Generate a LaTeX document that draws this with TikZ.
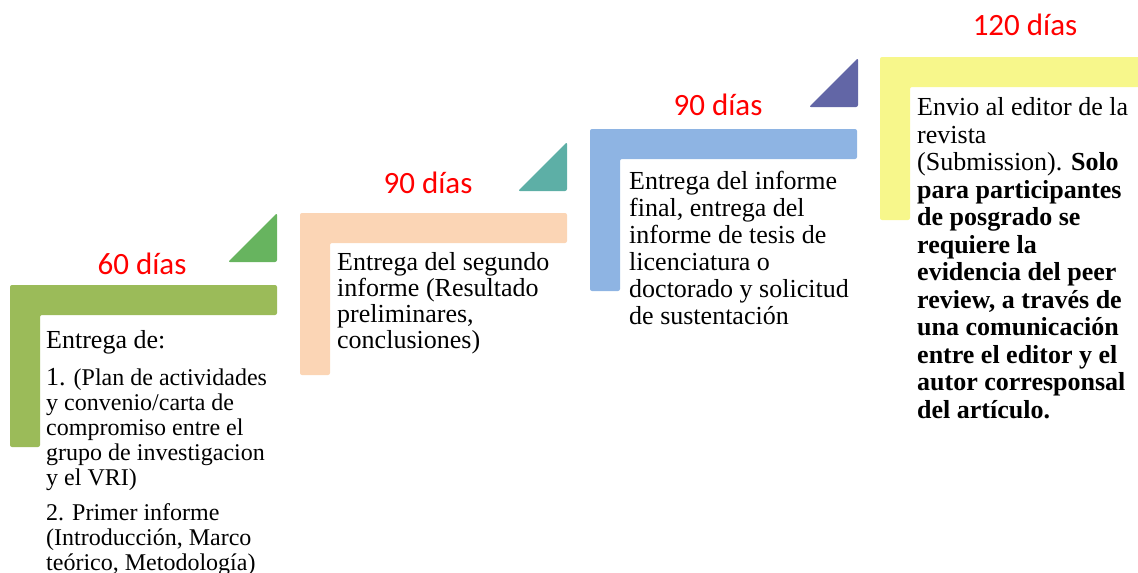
\documentclass[tikz,border=0pt]{standalone}
\usepackage{fontspec}
\setmainfont{Liberation Serif}
\newfontfamily\titlefont{Carlito}
\definecolor{barA}{HTML}{9BBB59}
\definecolor{barB}{HTML}{FBD5B5}
\definecolor{barC}{HTML}{8EB4E3}
\definecolor{barD}{HTML}{F7F78B}
\definecolor{triA}{HTML}{67B45F}
\definecolor{triB}{HTML}{5DAFA6}
\definecolor{triC}{HTML}{6266A6}
\tikzset{
  days/.style={text=red,font=\titlefont\fontsize{31}{31}\selectfont,anchor=base,inner sep=0pt},
  body/.style={font=\fontsize{26}{27}\selectfont,align=left,anchor=base west,inner sep=0pt}
}
\begin{document}
\begin{tikzpicture}[x=1pt,y=-1pt]
\useasboundingbox (0,0) rectangle (1138,573);
\clip (0,0) rectangle (1138,573);
\foreach \X/\Y/\H/\C in {10/285/447/barA,300/213/375/barB,590/129/291/barC,880/57/220/barD}
\fill[\C,rounded corners=2pt] (\X,\Y) -- ++(267,0) -- ++(0,30) -- (\X+30,\Y+30) -- (\X+30,\H) -- (\X,\H) -- cycle;
\foreach \X/\Y/\C in {228/262/triA,518/191/triB,809/107/triC}
\fill[\C,rounded corners=2pt] (\X,\Y) -- ++(49,0) -- ++(0,-49) -- cycle;
\node[days] (t1) at (142,274) {60 días};
\node[days] (t2) at (428,193) {90 días};
\node[days] (t3) at (718,115) {90 días};
\node[days] (t4) at (1025,35) {120 días};
\node[body,font=\fontsize{24}{25}\selectfont] (b1) at (46,570) {{\fontsize{26}{27}\selectfont Entrega de:}\\[12pt]
{\fontsize{26}{27}\selectfont 1.} (Plan de actividades\\
y convenio/carta de\\
compromiso entre el\\
grupo de investigacion\\
y el VRI)\\[10pt]
2. Primer informe\\
(Introducción, Marco\\
teórico, Metodología)};
\node[body,font=\fontsize{26}{26}\selectfont] (b2) at (337,348) {Entrega del segundo\\
informe (Resultado\\
preliminares,\\
conclusiones)};
\node[body] (b3) at (629,324) {Entrega del informe\\
final, entrega del\\
informe de tesis de\\
licenciatura o\\
doctorado y solicitud\\
de sustentación};
\node[body,font=\fontsize{26}{27.5}\selectfont] (b4) at (917,418) {Envio al editor de la\\
revista\\
(Submission). \textbf{Solo}\\
\textbf{para participantes}\\
\textbf{de posgrado se}\\
\textbf{requiere la}\\
\textbf{evidencia del peer}\\
\textbf{review, a través de}\\
\textbf{una comunicación}\\
\textbf{entre el editor y el}\\
\textbf{autor corresponsal}\\
\textbf{del artículo.}};
\end{tikzpicture}
\end{document}
